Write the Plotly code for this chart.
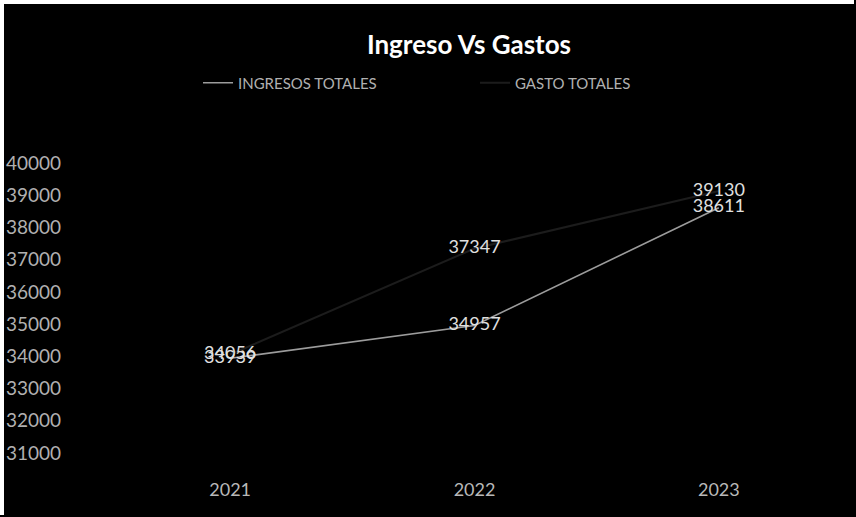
import plotly.graph_objects as go

# Series data
years = ["2021", "2022", "2023"]
ingresos_totales = [33939, 34957, 38611]
gasto_totales = [34056, 37347, 39130]

# Axis ticks
y_ticks = [31000, 32000, 33000, 34000, 35000, 36000, 37000, 38000, 39000, 40000]
y_tick_labels = [str(v) for v in y_ticks]

W, H = 856, 517
L, R, T, B = 108, 15, 163, 64
PW, PH = W - L - R, H - T - B

fig = go.Figure()

fig.add_trace(go.Scatter(
    x=years, y=ingresos_totales, name="INGRESOS TOTALES",
    mode="lines+text", text=[str(v) for v in ingresos_totales],
    textposition="middle center",
    textfont=dict(family="Lato", size=18, color="#e0e0e0"),
    line=dict(color="#9c9c9c", width=1.6),
))
fig.add_trace(go.Scatter(
    x=years, y=gasto_totales, name="GASTO TOTALES",
    mode="lines+text", text=[str(v) for v in gasto_totales],
    textposition="middle center",
    textfont=dict(family="Lato", size=18, color="#e0e0e0"),
    line=dict(color="#1c1c1c", width=2),
))

# thin white frame along the top and left edges of the canvas
fig.add_shape(type="rect", xref="paper", yref="paper",
              x0=-L / PW, x1=(W - L - 2) / PW,
              y0=1 + (T - 4) / PH, y1=1 + T / PH,
              fillcolor="white", line_width=0, layer="below")
fig.add_shape(type="rect", xref="paper", yref="paper",
              x0=-L / PW, x1=-(L - 4) / PW,
              y0=-(B - 2) / PH, y1=1 + T / PH,
              fillcolor="white", line_width=0, layer="below")

fig.update_layout(
    width=W, height=H,
    margin=dict(l=L, r=R, t=T, b=B),
    paper_bgcolor="black", plot_bgcolor="black",
    title=dict(text="<b>Ingreso Vs Gastos</b>", x=469 / W, xanchor="center",
               y=1 - 45 / H, yanchor="middle",
               font=dict(family="Lato", size=26, color="white")),
    legend=dict(orientation="h", x=(198 - L) / PW, xanchor="left",
                y=1 + (T - 83) / PH, yanchor="middle",
                font=dict(family="Lato", size=15, color="#b0b0b0"),
                entrywidth=232, entrywidthmode="pixels",
                bgcolor="rgba(0,0,0,0)"),
    showlegend=True,
)

fig.update_xaxes(
    type="category", range=[-0.5, 2.5], automargin=False,
    showgrid=False, zeroline=False, showline=False,
    ticks="", ticklabelstandoff=24,
    tickfont=dict(family="Lato", size=18, color="#b8b8b8"),
)
fig.update_yaxes(
    range=[31000, 40000], tickvals=y_ticks, ticktext=y_tick_labels,
    automargin=False,
    showgrid=False, zeroline=False, showline=False,
    ticks="", ticklabelstandoff=46,
    tickfont=dict(family="Lato", size=19, color="#b0b0b0"),
)

fig.write_html("out.html")
